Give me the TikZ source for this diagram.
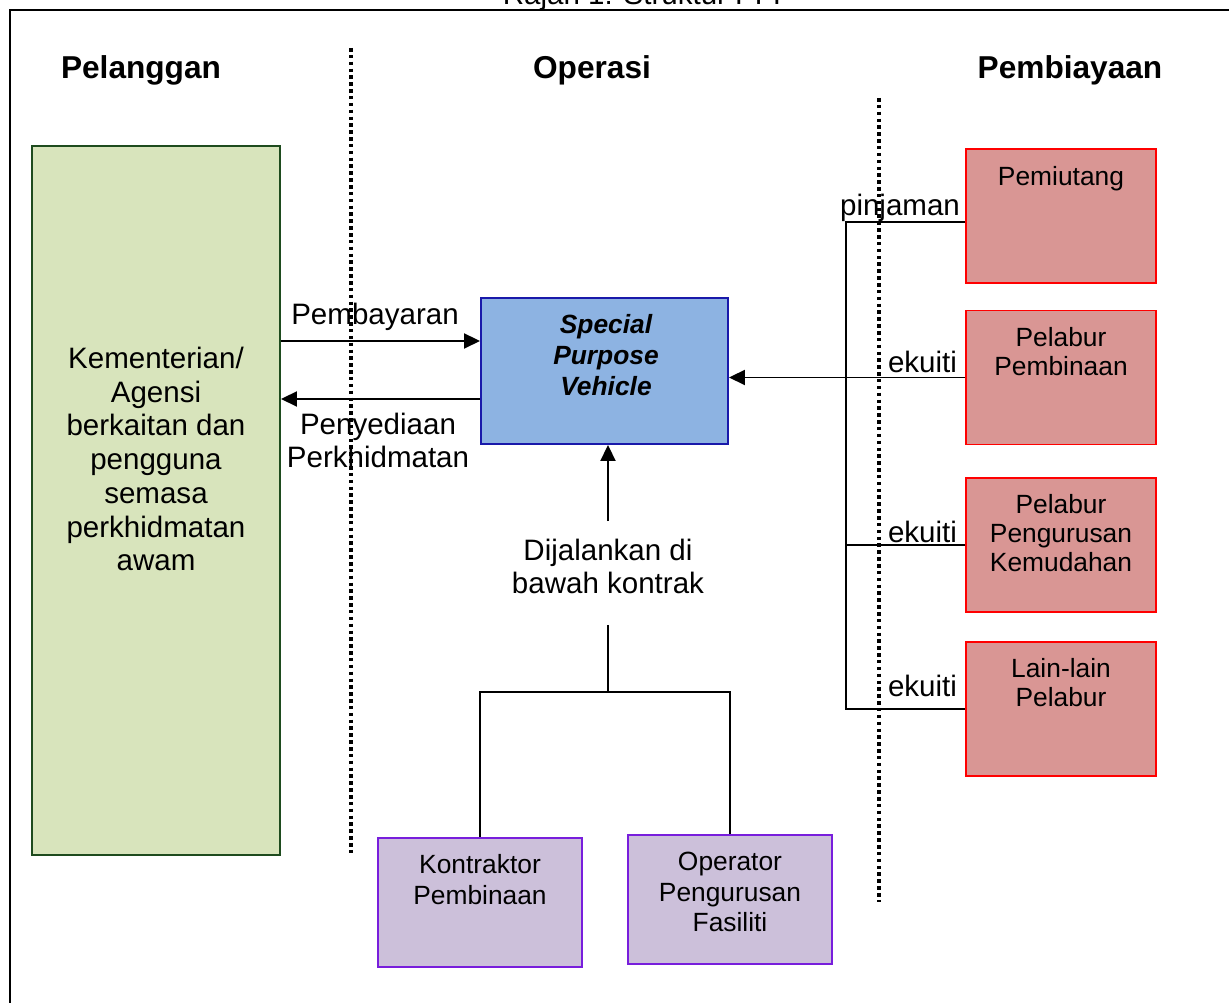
\documentclass[tikz,border=0pt]{standalone}
\usepackage{fontspec}
\setmainfont{Liberation Sans}
\usepackage{tikz}
\usetikzlibrary{positioning, calc}
\usetikzlibrary{arrows.meta}

\definecolor{custfill}{RGB}{216,228,188}
\definecolor{custline}{RGB}{30,75,30}
\definecolor{spvfill}{RGB}{141,179,226}
\definecolor{spvline}{RGB}{25,25,170}
\definecolor{finfill}{RGB}{217,150,148}
\definecolor{finline}{RGB}{255,0,0}
\definecolor{opfill}{RGB}{204,192,218}
\definecolor{opline}{RGB}{120,30,220}

\begin{document}
\begin{tikzpicture}[->,>={Triangle[length=3.2mm,width=3mm]},draw=black!100,line width=1.1pt]
	\useasboundingbox (0,0) rectangle (24.58cm,20.06cm);

	\def \titleht{19.96cm}
	\def \headht{18.66cm}
	\def \payrow{13.24cm}
	\def \servrow{12.08cm}
	\def \finx{21.22cm}

	\tikzstyle{c-node}=[rectangle,draw=custline,fill=custfill,inner sep=0pt,minimum width=4.96cm,minimum height=14.18cm]
	\tikzstyle{s-node}=[rectangle,draw=spvline,fill=spvfill,inner sep=0pt,minimum width=4.94cm,minimum height=2.92cm]
	\tikzstyle{f-node}=[rectangle,draw=finline,fill=finfill,inner sep=0pt,minimum width=3.8cm,minimum height=2.68cm]
	\tikzstyle{o-node}=[rectangle,draw=opline,fill=opfill,inner sep=0pt,minimum width=4.08cm,minimum height=2.58cm]
	% texts
	\tikzstyle{hdr}=[inner sep=0pt,font=\fontsize{18}{21.6}\selectfont\bfseries]
	\tikzstyle{annot}=[inner sep=0pt,align=center,font=\fontsize{16.8}{19.2}\selectfont]
	\tikzstyle{btext}=[inner sep=0pt,align=center,font=\fontsize{15}{17.6}\selectfont]
	\tikzstyle{ftext}=[inner sep=0pt,align=center,font=\fontsize{15}{16.5}\selectfont]
	\tikzstyle{divider}=[-,line width=2pt,dash pattern=on 2pt off 1.9pt]

	% frame and title
	\draw[-,line width=1.4pt] (0.2cm,0cm) -- (0.2cm,19.86cm) -- (24.58cm,19.86cm);
	\node[inner sep=0pt,anchor=base,font=\fontsize{16.8}{19.2}\selectfont] (title) at (12.84cm,\titleht) {Rajah 1: Struktur PFI};

	\node[hdr] (h-cust) at (2.82cm,\headht) {Pelanggan};
	\node[hdr] (h-op)   at (11.84cm,\headht) {Operasi};
	\node[hdr] (h-fin)  at (21.4cm,\headht) {Pembiayaan};

	% boxes
	\node[c-node] (cust) at (3.12cm,10.05cm) {};
	\node[s-node] (spv)  at (12.09cm,12.64cm) {};
	\node[f-node] (lend) at (\finx,15.74cm) {};
	\node[f-node] (inv1) at (\finx,12.51cm) {};
	\node[f-node] (inv2) at (\finx,9.16cm) {};
	\node[f-node] (inv3) at (\finx,5.88cm) {};
	\node[o-node] (con)  at (9.6cm,2.01cm) {};
	\node[o-node] (opr)  at (14.6cm,2.07cm) {};

	\node[annot] (cust-t) at (3.12cm,10.88cm) {Kementerian/\\Agensi\\berkaitan dan\\pengguna\\semasa\\perkhidmatan\\awam};
	\node[btext,font={\fontsize{15}{17.6}\selectfont\bfseries\itshape}] (spv-t) at (12.12cm,12.96cm) {Special\\Purpose\\Vehicle};
	\node[ftext] (lend-t) at (\finx,16.48cm) {Pemiutang};
	\node[ftext] (inv1-t) at (\finx,13.03cm) {Pelabur\\Pembinaan};
	\node[ftext] (inv2-t) at (\finx,9.40cm) {Pelabur\\Pengurusan\\Kemudahan};
	\node[ftext] (inv3-t) at (\finx,6.40cm) {Lain-lain\\Pelabur};
	\node[btext] (con-t) at (9.6cm,2.47cm) {Kontraktor\\Pembinaan};
	\node[btext] (opr-t) at (14.6cm,2.22cm) {Operator\\Pengurusan\\Fasiliti};

	% flow labels
	\node[annot] (pay-l)  at (7.5cm,13.72cm) {Pembayaran};
	\node[annot] (serv-l) at (7.56cm,11.25cm) {Penyediaan\\Perkhidmatan};
	\node[annot] (pin-l)  at (18.0cm,15.91cm) {pinjaman};
	\node[annot] (eq1-l)  at (18.45cm,12.82cm) {ekuiti};
	\node[annot] (eq2-l)  at (18.45cm,9.42cm) {ekuiti};
	\node[annot] (eq3-l)  at (18.45cm,6.34cm) {ekuiti};
	\node[annot,minimum height=2.04cm] (run) at (12.16cm,8.73cm) {Dijalankan di\\bawah kontrak};

	\coordinate (bus-top) at (16.92cm,15.62cm);
	\coordinate (hub) at (12.16cm,6.22cm);

	% customer <-> spv
	\draw (cust.east |- 0,\payrow) -- (spv.west |- 0,\payrow);
	\draw (spv.west |- 0,\servrow) -- (cust.east |- 0,\servrow);

	% contracts
	\draw ([yshift=-1.3mm]run.north) -- (run.north |- spv.south);
	\draw[-] ([yshift=-1.3mm]run.south) -- (hub);
	\draw[-] (hub) -| (con);
	\draw[-] (hub) -| (opr);

	% financing
	\draw (inv1.west) -- (spv.east |- inv1.west);
	\draw[-] (lend.west |- bus-top) -- (bus-top) -- (inv3.west -| bus-top) -- (inv3.west);
	\draw[-] (inv2.west) -- (inv2.west -| bus-top);

	% column dividers
	\draw[divider] (7.02cm,19.10cm) -- (7.02cm,3.0cm);
	\draw[divider] (17.58cm,18.10cm) -- (17.58cm,2.02cm);
\end{tikzpicture}
\end{document}
